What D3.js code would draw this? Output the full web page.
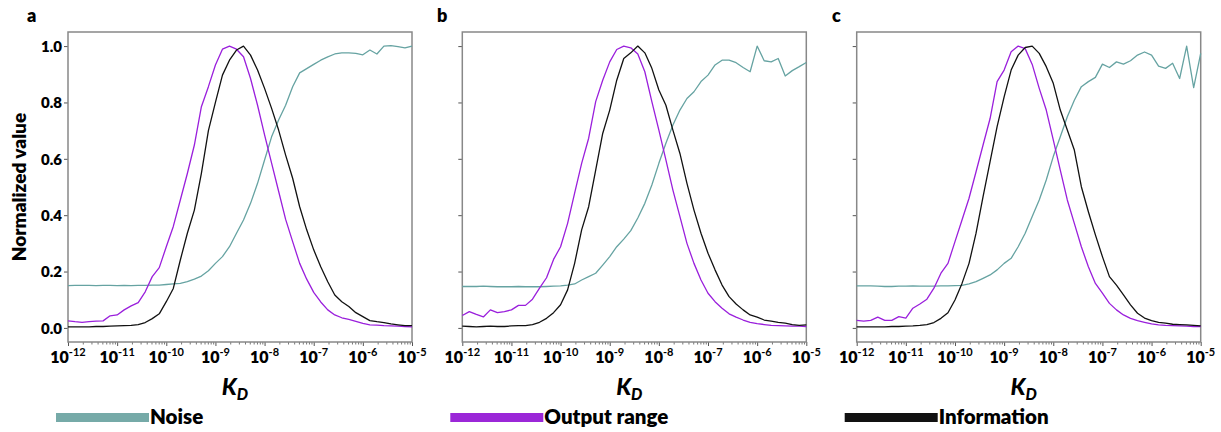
<!DOCTYPE html>
<html>
<head>
<meta charset="utf-8">
<script src="https://cdn.jsdelivr.net/npm/d3@7"></script>
<style>
  body { margin: 0; background: #fff; }
  svg text { font-family: Lato, "Open Sans", sans-serif; font-weight: bold; fill: #000; }
</style>
</head>
<body>
<main></main>
<script>
// data: 50 log-spaced KD values from 1e-12 to 1e-5
const kd = d3.range(50).map(i => Math.pow(10, -12 + i * 7 / 49));

const panelLabels = ["a", "b", "c"];
const seriesNames = ["Noise", "Output range", "Information"];
const xTickExps = [-12, -11, -10, -9, -8, -7, -6, -5];
const yTicks = [0, 0.2, 0.4, 0.6, 0.8, 1.0];

const noiseA = [0.150,0.151,0.151,0.151,0.150,0.151,0.151,0.150,0.151,0.150,
  0.151,0.151,0.152,0.152,0.154,0.156,0.158,0.164,0.173,0.184,
  0.203,0.229,0.253,0.288,0.336,0.383,0.442,0.513,0.596,0.678,
  0.738,0.790,0.856,0.905,0.920,0.935,0.950,0.962,0.972,0.976,
  0.976,0.974,0.969,0.986,0.972,1.000,1.002,0.998,0.994,1.000];
const outputA = [0.025,0.022,0.020,0.022,0.024,0.025,0.043,0.046,0.064,0.078,
  0.090,0.128,0.182,0.214,0.288,0.360,0.454,0.548,0.649,0.785,
  0.856,0.933,0.989,1.000,0.989,0.962,0.885,0.790,0.685,0.585,
  0.485,0.385,0.306,0.229,0.173,0.126,0.092,0.064,0.046,0.036,
  0.030,0.023,0.016,0.011,0.010,0.008,0.007,0.006,0.005,0.004];
const infoA = [0.004,0.004,0.004,0.004,0.005,0.005,0.006,0.007,0.008,0.009,
  0.012,0.019,0.033,0.050,0.093,0.140,0.241,0.336,0.418,0.548,
  0.700,0.800,0.897,0.950,0.986,1.000,0.968,0.915,0.850,0.779,
  0.702,0.613,0.531,0.430,0.348,0.277,0.217,0.164,0.117,0.093,
  0.076,0.054,0.040,0.026,0.022,0.019,0.014,0.011,0.008,0.008];

const noiseB = [0.147,0.147,0.147,0.148,0.147,0.146,0.146,0.146,0.147,0.146,
  0.146,0.146,0.147,0.148,0.149,0.152,0.156,0.170,0.182,0.194,
  0.223,0.253,0.288,0.315,0.345,0.390,0.442,0.507,0.584,0.655,
  0.720,0.773,0.814,0.838,0.874,0.897,0.933,0.950,0.950,0.941,
  0.924,0.909,1.000,0.948,0.944,0.956,0.894,0.913,0.927,0.942];
const outputB = [0.044,0.058,0.048,0.039,0.064,0.054,0.058,0.064,0.080,0.080,
  0.102,0.141,0.178,0.243,0.288,0.371,0.478,0.584,0.673,0.803,
  0.879,0.944,0.988,1.000,0.994,0.972,0.909,0.803,0.702,0.596,
  0.489,0.395,0.300,0.229,0.170,0.123,0.093,0.070,0.050,0.038,
  0.028,0.020,0.015,0.012,0.009,0.008,0.007,0.006,0.006,0.005];
const infoB = [0.006,0.005,0.004,0.005,0.006,0.005,0.005,0.007,0.008,0.008,
  0.012,0.020,0.034,0.054,0.082,0.135,0.229,0.348,0.430,0.560,
  0.690,0.773,0.879,0.956,0.976,1.000,0.976,0.921,0.844,0.790,
  0.702,0.619,0.513,0.418,0.336,0.265,0.206,0.152,0.111,0.085,
  0.064,0.046,0.038,0.028,0.024,0.020,0.017,0.012,0.009,0.011];

const noiseC = [0.149,0.149,0.149,0.148,0.147,0.147,0.148,0.148,0.149,0.148,
  0.148,0.148,0.149,0.149,0.150,0.151,0.156,0.164,0.176,0.188,
  0.206,0.229,0.247,0.288,0.336,0.395,0.454,0.525,0.608,0.678,
  0.749,0.808,0.856,0.874,0.889,0.936,0.924,0.944,0.936,0.948,
  0.968,0.979,0.968,0.929,0.921,0.939,0.885,1.000,0.853,0.974];
const outputC = [0.027,0.024,0.027,0.038,0.027,0.027,0.040,0.035,0.070,0.085,
  0.102,0.141,0.194,0.229,0.306,0.383,0.460,0.554,0.649,0.743,
  0.874,0.915,0.980,1.000,0.991,0.935,0.850,0.773,0.667,0.560,
  0.454,0.371,0.288,0.217,0.158,0.123,0.087,0.064,0.046,0.034,
  0.026,0.020,0.014,0.011,0.009,0.008,0.007,0.006,0.005,0.005];
const infoC = [0.004,0.004,0.004,0.004,0.004,0.005,0.005,0.006,0.007,0.009,
  0.012,0.019,0.034,0.054,0.099,0.158,0.229,0.336,0.466,0.590,
  0.714,0.820,0.915,0.968,0.995,1.000,0.974,0.927,0.868,0.773,
  0.702,0.631,0.501,0.412,0.330,0.253,0.182,0.152,0.117,0.082,
  0.052,0.035,0.026,0.020,0.017,0.013,0.012,0.011,0.009,0.007];

const panels = [
  [noiseA, outputA, infoA],
  [noiseB, outputB, infoB],
  [noiseC, outputC, infoC],
];

const colors = ["#66a3a2", "#9a1fdc", "#111111"];
const legendColors = ["#76aaa8", "#9b27d8", "#111111"];

// layout
const width = 1221, height = 432;
const panelLeft = [68, 462.3, 856.7];
const letterX = [27, 437, 832];
const plotW = 344, plotTop = 32, plotH = 310;

const svg = d3.select("main").append("svg")
  .attr("width", width)
  .attr("height", height);

const y = d3.scaleLinear().domain([-0.05, 1.05]).range([plotH, 0]);

const minorTicks = [];
for (let e = -12; e < -5; e++) {
  for (let m = 2; m <= 9; m++) minorTicks.push(m * Math.pow(10, e));
}

panels.forEach((series, p) => {
  const g = svg.append("g")
    .attr("transform", `translate(${panelLeft[p]},${plotTop})`);

  const x = d3.scaleLog().domain([1e-12, 1e-5]).range([0, plotW]);

  // y axis ticks
  const yAxis = g.append("g")
    .call(d3.axisLeft(y).tickValues(yTicks).tickSize(4)
      .tickFormat(p === 0 ? d3.format(".1f") : ""));
  yAxis.select(".domain").remove();
  yAxis.selectAll("line").attr("stroke", "#555");
  yAxis.selectAll("text")
    .attr("x", -6)
    .attr("dy", "0.36em")
    .style("font-size", "15px")
    .style("font-family", "Lato, sans-serif")
    .style("font-weight", "800");

  // x axis major + minor ticks
  const xMajor = g.append("g")
    .attr("transform", `translate(0,${plotH})`)
    .call(d3.axisBottom(x).tickValues(xTickExps.map(e => Math.pow(10, e))).tickSize(4).tickFormat(""));
  xMajor.select(".domain").remove();
  xMajor.selectAll("line").attr("stroke", "#555");

  const xMinor = g.append("g")
    .attr("transform", `translate(0,${plotH})`)
    .call(d3.axisBottom(x).tickValues(minorTicks).tickSize(2.5).tickFormat(""));
  xMinor.select(".domain").remove();
  xMinor.selectAll("line").attr("stroke", "#777");

  // x tick labels 10^n
  const lbl = g.append("g").selectAll("text")
    .data(xTickExps)
    .join("text")
    .attr("x", d => x(Math.pow(10, d)))
    .attr("y", plotH + 20.5)
    .attr("text-anchor", "middle")
    .style("font-size", "16px")
    .style("font-weight", "800");
  lbl.append("tspan").text("10");
  lbl.append("tspan")
    .attr("dy", -7)
    .style("font-size", "11px")
    .style("font-weight", "bold")
    .text(d => String(d));

  // frame
  g.append("rect")
    .attr("width", plotW)
    .attr("height", plotH)
    .attr("fill", "none")
    .attr("stroke", "#888")
    .attr("stroke-width", 1.5);

  // lines
  const line = d3.line()
    .x((d, i) => x(kd[i]))
    .y(d => y(d));

  series.forEach((vals, s) => {
    g.append("path")
      .datum(vals)
      .attr("d", line)
      .attr("fill", "none")
      .attr("stroke", colors[s])
      .attr("stroke-width", 1.3)
      .attr("stroke-linejoin", "round");
  });

  // panel letter
  svg.append("text")
    .attr("x", letterX[p])
    .attr("y", 22)
    .style("font-size", "18px")
    .style("font-weight", "800")
    .text(panelLabels[p]);

  // K_D label
  const kdLabel = svg.append("text")
    .attr("x", panelLeft[p] + plotW / 2 - 5)
    .attr("y", 395)
    .attr("text-anchor", "middle")
    .style("font-style", "italic")
    .style("font-weight", "900")
    .style("font-size", "23px");
  kdLabel.append("tspan").text("K");
  kdLabel.append("tspan")
    .attr("dy", 5)
    .style("font-size", "16px")
    .text("D");

  // legend entry
  const lx = panelLeft[p] - 12;
  svg.append("rect")
    .attr("x", lx)
    .attr("y", 413)
    .attr("width", 93)
    .attr("height", 9)
    .attr("fill", legendColors[p]);
  svg.append("text")
    .attr("x", lx + 94)
    .attr("y", 424)
    .style("font-size", "20.5px")
    .style("font-weight", "800")
    .text(seriesNames[p]);
});

// y axis title
svg.append("text")
  .attr("transform", `translate(26,${plotTop + y(0.5)}) rotate(-90)`)
  .attr("text-anchor", "middle")
  .style("font-size", "19px")
  .style("font-weight", "800")
  .text("Normalized value");
</script>
</body>
</html>
